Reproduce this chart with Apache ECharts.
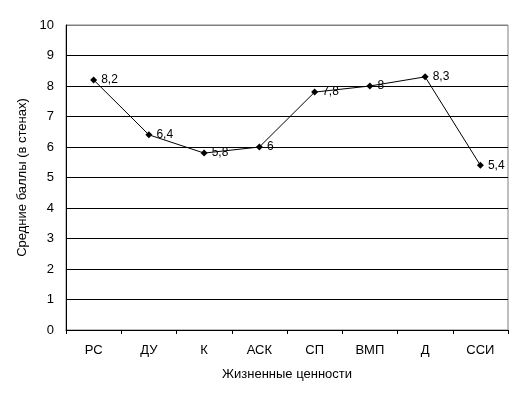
<!DOCTYPE html>
<html>
<head>
<meta charset="utf-8">
<script src="https://cdn.jsdelivr.net/npm/echarts@6/dist/echarts.min.js"></script>
<style>
    html, body { margin: 0; padding: 0; background: #fff; }
    #main { width: 522px; height: 399px; }
</style>
</head>
<body>
<div id="main"></div>
<script>
// категории и средние значения
var categories = ['РС', 'ДУ', 'К', 'АСК', 'СП', 'ВМП', 'Д', 'ССИ']
var values = [8.2, 6.4, 5.8, 6, 7.8, 8, 8.3, 5.4]

var font = 'Arial, "Liberation Sans", sans-serif'
var gridColors = ['#000', '#000', '#000', '#000', '#000', '#000', '#000', '#000', '#000', '#000', '#808080']

var myChart = echarts.init(document.getElementById('main'))
var option = {
    animation: false,
    grid: {
        left: 66,
        right: 14,
        top: 25,
        bottom: 69,
        show: true,
        borderColor: '#808080',
        borderWidth: 1
    },
    xAxis: {
        type: 'category',
        data: categories,
        boundaryGap: true,
        name: 'Жизненные ценности',
        nameLocation: 'middle',
        nameGap: 38,
        nameTextStyle: { color: '#000', fontSize: 13, fontFamily: font },
        axisLine: { lineStyle: { color: '#000', width: 1 } },
        axisTick: { show: true, length: 4, alignWithLabel: false, lineStyle: { color: '#000' } },
        axisLabel: { color: '#000', fontSize: 13, fontFamily: font, margin: 14 }
    },
    yAxis: {
        type: 'value',
        min: 0,
        max: 10,
        interval: 1,
        name: 'Средние баллы (в стенах)',
        nameLocation: 'middle',
        nameGap: 29,
        nameTextStyle: { color: '#000', fontSize: 13, fontFamily: font },
        axisLine: { show: true, lineStyle: { color: '#000', width: 1 } },
        axisTick: { show: false },
        axisLabel: { color: '#000', fontSize: 13, fontFamily: font, margin: 12 },
        splitLine: { show: true, lineStyle: { color: gridColors, width: 1 } }
    },
    series: [
        {
            type: 'line',
            data: values,
            symbol: 'diamond',
            symbolSize: 7,
            itemStyle: { color: '#000' },
            lineStyle: { color: '#000', width: 1 },
            label: {
                show: true,
                position: 'right',
                distance: 4,
                color: '#000',
                fontSize: 12,
                fontFamily: font,
                formatter: function (p) {
                    return String(p.value).replace('.', ',')
                }
            }
        }
    ]
}
myChart.setOption(option)
</script>
</body>
</html>
